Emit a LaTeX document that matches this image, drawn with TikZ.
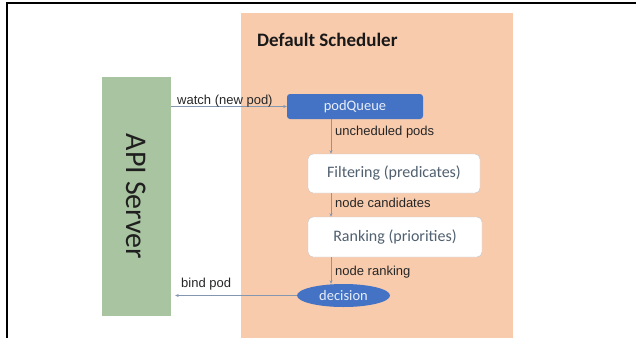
\documentclass[tikz,border=0pt]{standalone}
\usepackage{fontspec}
\usepackage{tikz}
\usepackage{xcolor}
\usetikzlibrary{shapes.geometric,arrows.meta}
\setmainfont{Carlito}
\newfontfamily\labelfont{Liberation Sans}
\definecolor{apigreen}{HTML}{A9C4A0}
\definecolor{schedorange}{HTML}{F8CBAD}
\definecolor{queueblue}{HTML}{4472C4}
\definecolor{linkgray}{HTML}{8497B0}
\definecolor{boxtext}{HTML}{50606F}

\begin{document}
\begin{tikzpicture}[x=1pt,y=-1pt,
  stagebox/.style={draw=gray!45,fill=white,rounded corners=5pt,inner sep=0pt,
    text=boxtext,font=\fontsize{16}{19}\selectfont},
  bluebox/.style={fill=queueblue,inner sep=0pt,text=white!88!queueblue,
    font=\fontsize{14.5}{17}\selectfont},
  flow/.style={draw=linkgray,line width=0.8pt,-{Stealth[length=3.5pt,width=3pt]}},
  flowlabel/.style={anchor=west,inner sep=0pt,text=black!85,
    font=\labelfont\fontsize{13}{15}\selectfont}]
\useasboundingbox (0,0) rectangle (636,338);
\fill[white] (0,0) rectangle (636,338);
\draw[line width=2pt] (6,3) -- (636,3);
\draw[line width=2pt] (7,2) -- (7,338);
\fill[schedorange] (241,13) rectangle (513,338);
\node[anchor=west,inner sep=0pt,text=black!90,font=\bfseries\fontsize{19}{22}\selectfont]
  (title) at (257,40) {Default Scheduler};
\node[fill=apigreen,inner sep=0pt,minimum width=69pt,minimum height=239pt,
  text=black!88,font=\fontsize{30}{34}\selectfont]
  (api) at (136.5,196.5) {\rotatebox{-90}{API Server}};
\node[bluebox,rounded corners=3pt,minimum width=136pt,minimum height=25pt]
  (pq) at (355,106.5) {podQueue};
\node[stagebox,minimum width=172pt,minimum height=39pt] (filt) at (394,173.5) {Filtering (predicates)};
\node[stagebox,minimum width=174pt,minimum height=40pt] (rank) at (395,237) {Ranking (priorities)};
\node[bluebox,ellipse,minimum width=93pt,minimum height=23pt] (dec) at (343.5,295.5) {decision};
\coordinate (ax) at (331,0);
\draw[flow] (api.east |- pq.west) -- (pq.west);
\draw[flow] (pq.south -| ax) -- (filt.north -| ax);
\draw[flow] (filt.south -| ax) -- (rank.north -| ax);
\draw[flow] (rank.south -| ax) -- (dec.north -| ax);
\draw[flow,shorten >=4pt] (dec.west) -- (api.east |- dec.west);
\node[flowlabel] (watchlbl) at (177,101) {watch (new pod)};
\node[flowlabel] (unschedlbl) at (335,132) {uncheduled pods};
\node[flowlabel] (candlbl) at (335,203) {node candidates};
\node[flowlabel] (ranklbl) at (335,272) {node ranking};
\node[flowlabel] (bindlbl) at (181,284) {bind pod};
\end{tikzpicture}
\end{document}
